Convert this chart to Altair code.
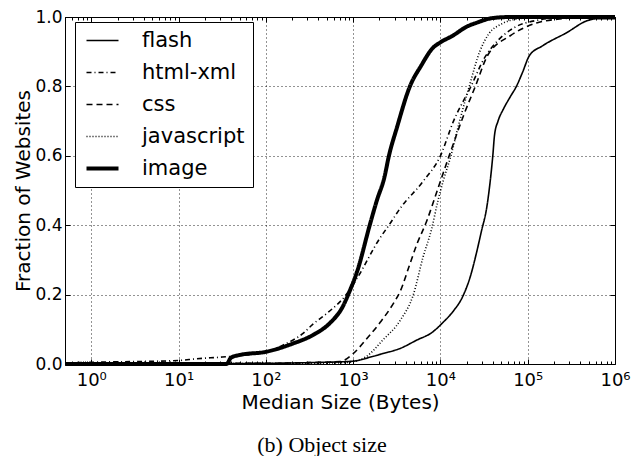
import altair as alt
import pandas as pd

# ---- data (log10 of median size in bytes, cumulative fraction of websites) ----
series = ["flash", "html-xml", "css", "javascript", "image"]

flash_logx = [-0.3, 1.0, 2.0, 2.5, 3.0, 3.2, 3.34, 3.54, 3.73, 3.91, 4.03, 4.14, 4.26, 4.34,
              4.41, 4.47, 4.53, 4.57, 4.6, 4.62, 4.66, 4.72, 4.8, 4.87, 4.94, 5.02, 5.17,
              5.44, 5.7, 5.8, 6.0]
flash_y = [0.0, 0.001, 0.002, 0.004, 0.008, 0.02, 0.03, 0.045, 0.069, 0.092, 0.12, 0.15, 0.197,
           0.25, 0.317, 0.383, 0.45, 0.526, 0.6, 0.66, 0.70, 0.734, 0.77, 0.8, 0.84, 0.889,
           0.917, 0.954, 0.991, 0.995, 0.995]

html_logx = [-0.3, 0.0, 1.0, 1.2, 1.5, 1.78, 2.0, 2.2, 2.43, 2.54, 2.7, 2.93, 3.04, 3.31, 3.41,
             3.54, 3.8, 4.0, 4.15, 4.35, 4.5, 4.65, 4.85, 5.1, 5.5, 6.0]
html_y = [0.003, 0.005, 0.01, 0.015, 0.02, 0.026, 0.035, 0.055, 0.089, 0.115, 0.146, 0.203,
          0.245, 0.364, 0.40, 0.449, 0.526, 0.6, 0.70, 0.80, 0.88, 0.93, 0.97, 0.99, 1.0, 1.0]

css_logx = [-0.3, 2.0, 2.5, 2.85, 3.0, 3.16, 3.31, 3.46, 3.54, 3.65, 3.73, 3.84, 3.96, 4.1,
            4.28, 4.4, 4.54, 4.8, 5.1, 5.4, 5.7, 6.0]
css_y = [0.001, 0.002, 0.004, 0.007, 0.03, 0.074, 0.12, 0.174, 0.21, 0.288, 0.345, 0.41, 0.497,
         0.6, 0.726, 0.80, 0.889, 0.946, 0.983, 0.995, 1.0, 1.0]

js_logx = [-0.3, 2.5, 2.9, 3.0, 3.16, 3.34, 3.54, 3.69, 3.8, 3.9, 3.97, 4.03, 4.12, 4.22, 4.33,
           4.45, 4.55, 4.7, 4.9, 5.2, 6.0]
js_y = [0.0, 0.002, 0.004, 0.007, 0.023, 0.069, 0.126, 0.20, 0.307, 0.39, 0.469, 0.526, 0.60,
        0.70, 0.80, 0.90, 0.95, 0.98, 0.995, 1.0, 1.0]

image_logx = [-0.3, 1.55, 1.6, 1.7, 2.0, 2.3, 2.55, 2.73, 2.88, 2.96, 3.05, 3.19, 3.27, 3.36,
              3.41, 3.5, 3.65, 3.78, 3.91, 4.0, 4.14, 4.3, 4.41, 4.6, 4.8, 6.0]
image_y = [0.0, 0.0, 0.018, 0.026, 0.035, 0.058, 0.085, 0.117, 0.165, 0.21, 0.27, 0.40, 0.47,
           0.54, 0.60, 0.68, 0.80, 0.86, 0.91, 0.927, 0.946, 0.972, 0.983, 0.997, 1.0, 1.0]

x_major = [1, 10, 100, 1000, 10000, 100000, 1000000]
x_minor = [m * 10 ** k for k in range(-1, 6) for m in range(2, 10) if 0.5 <= m * 10 ** k <= 1e6]
y_ticks = [0.0, 0.2, 0.4, 0.6, 0.8, 1.0]

dashes = [[1, 0], [5, 3, 1, 3], [6, 4], [1, 2], [1, 0]]
THIN = 1.6
THICK = 4.0

rows = []
for name, lx, ys in [("flash", flash_logx, flash_y), ("html-xml", html_logx, html_y),
                     ("css", css_logx, css_y), ("javascript", js_logx, js_y),
                     ("image", image_logx, image_y)]:
    for a, b in zip(lx, ys):
        rows.append({"series": name, "size": 10 ** a, "frac": b})
df = pd.DataFrame(rows)

FONT = "DejaVu Sans"
xs = alt.Scale(type="log", domain=[0.5, 1e6], nice=False)
ys_ = alt.Scale(domain=[0, 1], nice=False)

label_expr = "'10' + ['\u2070','\u00b9','\u00b2','\u00b3','\u2074','\u2075','\u2076'][round(log(datum.value)/LN10)]"
width_expr = "datum.value == 'image' ? %s : %s" % (THICK, THIN)

lines = alt.Chart(df).mark_line(interpolate="monotone", color="black").encode(
    x=alt.X("size:Q", scale=xs, axis=alt.Axis(
        values=x_major, labelExpr=label_expr, title="Median Size (Bytes)", grid=True,
        gridDash=[1, 3], gridColor="black", gridOpacity=0.85, ticks=False, domain=False,
        labelPadding=7, labelFontSize=18, labelFont=FONT, labelColor="black",
        titleFontSize=20, titleFont=FONT, titleFontWeight="normal", titleColor="black",
        titlePadding=3, labelFlush=False)),
    y=alt.Y("frac:Q", scale=ys_, axis=alt.Axis(
        values=y_ticks, format=".1f", title="Fraction of Websites", grid=True,
        gridDash=[1, 3], gridColor="black", gridOpacity=0.85, ticks=False, domain=False,
        labelPadding=3, labelFontSize=17, labelFont=FONT, labelColor="black",
        titleFontSize=20, titleFont=FONT, titleFontWeight="normal", titleColor="black",
        titlePadding=1, labelFlush=False)),
    strokeDash=alt.StrokeDash("series:N", sort=series,
                              scale=alt.Scale(domain=series, range=dashes),
                              legend=alt.Legend(title=None,
                                                symbolStrokeWidth=alt.ExprRef(width_expr))),
    strokeWidth=alt.condition(alt.datum.series == "image", alt.value(THICK), alt.value(THIN)),
)


def tick_layer(xaxis, yaxis):
    return alt.Chart(df).mark_line(opacity=0).encode(
        x=alt.X("size:Q", scale=xs, axis=xaxis),
        y=alt.Y("frac:Q", scale=ys_, axis=yaxis),
        detail="series:N",
    )


def tax(orient, values, size):
    return alt.Axis(orient=orient, values=values, tickSize=size, offset=-size, labels=False,
                    domain=False, grid=False, title=None, tickColor="black", tickWidth=1)


t1 = tick_layer(tax("bottom", x_major, 5), tax("left", y_ticks, 5))
t2 = tick_layer(tax("bottom", x_minor, 3), tax("right", y_ticks, 5))
t3 = tick_layer(tax("top", x_major, 5), None)
t4 = tick_layer(tax("top", x_minor, 3), None)

chart = alt.layer(lines, t1, t2, t3, t4).resolve_axis(
    x="independent", y="independent"
).properties(
    width=550, height=347,
    autosize=alt.AutoSizeParams(type="none"),
    padding={"left": 57, "top": 9, "right": 17, "bottom": 92},
    title=alt.TitleParams(text="(b) Object size", orient="bottom", font="Liberation Serif",
                          fontSize=22, fontWeight="normal", color="black", anchor="middle",
                          frame="bounds", offset=23),
).configure(font=FONT).configure_view(
    stroke="black", strokeWidth=1
).configure_legend(
    orient="none", legendX=10, legendY=5, fillColor="white", strokeColor="black",
    padding=8, labelFont=FONT, labelFontSize=21, labelColor="black", symbolType="stroke",
    symbolSize=1024, symbolStrokeColor="black", labelOffset=29, rowPadding=10,
    symbolOffset=9, cornerRadius=0
)

chart.save("out.html", embed_options={"renderer": "svg", "actions": False})
